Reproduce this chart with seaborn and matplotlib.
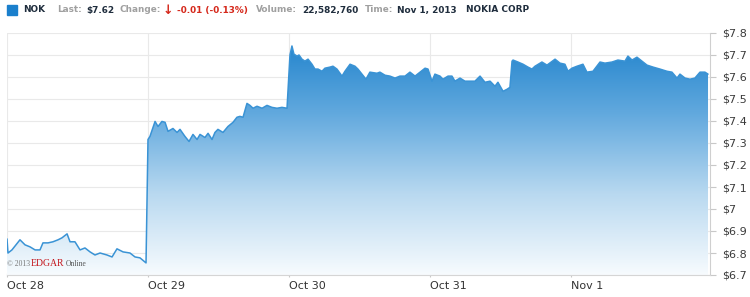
import numpy as np
import pandas as pd
import seaborn as sns
import matplotlib
matplotlib.use("Agg")
import matplotlib.pyplot as plt
from matplotlib.colors import LinearSegmentedColormap

# ---- data (trading-day position since Oct 28 open, price in $) ----
day_labels = ["Oct 28", "Oct 29", "Oct 30", "Oct 31", "Nov 1"]
price_ticks = [6.7, 6.8, 6.9, 7.0, 7.1, 7.2, 7.3, 7.4, 7.5, 7.6, 7.7, 7.8]
price_tick_labels = ["$6.7", "$6.8", "$6.9", "$7", "$7.1", "$7.2", "$7.3",
                     "$7.4", "$7.5", "$7.6", "$7.7", "$7.8"]

t_oct28 = [0.000, 0.007, 0.035, 0.092, 0.128, 0.163, 0.199, 0.234, 0.255, 0.291,
           0.326, 0.362, 0.390, 0.426, 0.447, 0.482, 0.518, 0.553, 0.589, 0.624,
           0.660, 0.709, 0.745, 0.780, 0.823, 0.872, 0.908, 0.943, 0.986]
p_oct28 = [6.864, 6.800, 6.814, 6.860, 6.837, 6.828, 6.814, 6.814, 6.846, 6.846,
           6.851, 6.860, 6.869, 6.887, 6.851, 6.851, 6.814, 6.823, 6.805, 6.791,
           6.800, 6.791, 6.782, 6.819, 6.805, 6.800, 6.782, 6.778, 6.755]

t_oct29 = [1.000, 1.014, 1.050, 1.071, 1.099, 1.121, 1.142, 1.177, 1.206, 1.227,
           1.262, 1.291, 1.319, 1.348, 1.369, 1.404, 1.426, 1.454, 1.475, 1.496,
           1.532, 1.567, 1.603, 1.631, 1.652, 1.674, 1.702, 1.723, 1.745, 1.773,
           1.809, 1.844, 1.879, 1.915, 1.950, 1.986]
p_oct29 = [7.316, 7.330, 7.398, 7.375, 7.398, 7.394, 7.353, 7.366, 7.348, 7.362,
           7.330, 7.307, 7.339, 7.316, 7.339, 7.325, 7.344, 7.316, 7.348, 7.362,
           7.348, 7.375, 7.394, 7.417, 7.421, 7.417, 7.480, 7.471, 7.458, 7.467,
           7.458, 7.471, 7.462, 7.458, 7.462, 7.458]

t_oct30 = [2.007, 2.021, 2.035, 2.057, 2.071, 2.092, 2.113, 2.135, 2.163, 2.184,
           2.206, 2.234, 2.255, 2.291, 2.312, 2.340, 2.376, 2.397, 2.433, 2.468,
           2.489, 2.518, 2.546, 2.574, 2.624, 2.645, 2.681, 2.716, 2.752, 2.787,
           2.823, 2.858, 2.894, 2.929, 2.965, 2.986]
p_oct30 = [7.700, 7.741, 7.704, 7.695, 7.700, 7.681, 7.672, 7.681, 7.658, 7.636,
           7.636, 7.626, 7.640, 7.645, 7.649, 7.636, 7.604, 7.626, 7.658, 7.649,
           7.636, 7.613, 7.590, 7.622, 7.617, 7.622, 7.608, 7.604, 7.595, 7.604,
           7.604, 7.622, 7.604, 7.622, 7.640, 7.636]

t_oct31 = [3.014, 3.035, 3.071, 3.092, 3.128, 3.156, 3.177, 3.213, 3.248, 3.284,
           3.319, 3.355, 3.390, 3.426, 3.461, 3.482, 3.518, 3.546, 3.567, 3.582,
           3.589, 3.624, 3.660, 3.695, 3.723, 3.745, 3.794, 3.830, 3.887, 3.922,
           3.957, 3.979]
p_oct31 = [7.581, 7.613, 7.604, 7.590, 7.604, 7.604, 7.581, 7.595, 7.581, 7.581,
           7.581, 7.604, 7.576, 7.581, 7.558, 7.576, 7.535, 7.544, 7.553, 7.672,
           7.677, 7.668, 7.658, 7.645, 7.636, 7.649, 7.668, 7.654, 7.681, 7.663,
           7.658, 7.626]

t_nov01 = [4.007, 4.043, 4.085, 4.113, 4.156, 4.206, 4.241, 4.291, 4.333, 4.383,
           4.404, 4.433, 4.468, 4.504, 4.539, 4.582, 4.631, 4.681, 4.716, 4.752,
           4.773, 4.809, 4.844, 4.879, 4.915, 4.950, 4.972]
p_nov01 = [7.640, 7.649, 7.658, 7.622, 7.626, 7.668, 7.663, 7.668, 7.677, 7.672,
           7.695, 7.677, 7.690, 7.672, 7.654, 7.645, 7.636, 7.626, 7.622, 7.595,
           7.613, 7.595, 7.590, 7.595, 7.622, 7.622, 7.613]

df = pd.DataFrame({
    "t": t_oct28 + t_oct29 + t_oct30 + t_oct31 + t_nov01,
    "price": p_oct28 + p_oct29 + p_oct30 + p_oct31 + p_nov01,
})

# ---- figure ----
sns.set_style("white")
plt.rcParams["font.family"] = ["DejaVu Sans"]

fig = plt.figure(figsize=(7.5, 2.97), dpi=100)
ax = fig.add_axes([7 / 750, 1 - 275 / 297, 703 / 750, 242 / 297])

y0, y1 = 6.7, 7.8
x0, x1 = 0.0, 4.986

# gradient area
poly = ax.fill_between(df["t"], df["price"], y0, color="none", lw=0)
cmap = LinearSegmentedColormap.from_list(
    "edgar", ["#f7fbfe", "#b9d9f0", "#62a9de", "#1b80cb"])
grad = np.linspace(0, 1, 256).reshape(-1, 1)
im = ax.imshow(grad, extent=[x0, x1, y0, y1], origin="lower", aspect="auto",
               cmap=cmap, zorder=1)
im.set_clip_path(poly.get_paths()[0], transform=ax.transData)

sns.lineplot(data=df, x="t", y="price", ax=ax, color="#3a93d5", lw=1.1,
             zorder=3, sort=False)

ax.set_xlim(x0, x1)
ax.set_ylim(y0, y1)
ax.set_xlabel("")
ax.set_ylabel("")

ax.set_xticks(range(len(day_labels)))
ax.set_xticklabels(day_labels)
for lab in ax.get_xticklabels():
    lab.set_horizontalalignment("left")
ax.set_yticks(price_ticks)
ax.set_yticklabels(price_tick_labels)

ax.yaxis.tick_right()
ax.tick_params(axis="y", which="both", right=True, left=False, length=4.5,
               width=0.8, color="#c8c8c8", pad=4, labelsize=8,
               labelcolor="#3a3a3a")
ax.tick_params(axis="x", bottom=True, length=3, width=0.8, color="#c8c8c8",
               direction="inout", pad=3, labelsize=8, labelcolor="#333333")

ax.grid(True, color="#e9e9e9", lw=0.8, zorder=0)
ax.set_axisbelow(True)
for side in ["top", "left"]:
    ax.spines[side].set_visible(False)
ax.spines["right"].set_color("#cfcfcf")
ax.spines["bottom"].set_color("#d5d5d5")
ax.spines["right"].set_linewidth(0.8)
ax.spines["bottom"].set_linewidth(0.8)

# ---- header ----
hy = 1 - 10 / 297
fs = 6.4
fig.patches.append(plt.Rectangle((7 / 750, 1 - 15 / 297), 10 / 750, 10 / 297,
                                 transform=fig.transFigure, color="#1a7fcc"))
dark = "#1f2d3d"
grey = "#a0a0a0"
red = "#d5281b"
fig.text(23 / 750, hy, "NOK", fontsize=fs, weight="bold", color=dark, va="center")
fig.text(57 / 750, hy, "Last:", fontsize=fs, weight="bold", color=grey, va="center")
fig.text(86 / 750, hy, "$7.62", fontsize=fs, weight="bold", color=dark, va="center")
fig.text(119 / 750, hy, "Change:", fontsize=fs, weight="bold", color=grey, va="center")
fig.text(167.5 / 750, hy, "\u2193", fontsize=9, weight="bold", color=red,
         va="center", ha="center")
fig.text(177 / 750, hy, "-0.01 (-0.13%)", fontsize=fs, weight="bold", color=red,
         va="center")
fig.text(256 / 750, hy, "Volume:", fontsize=fs, weight="bold", color=grey, va="center")
fig.text(302 / 750, hy, "22,582,760", fontsize=fs, weight="bold", color=dark,
         va="center")
fig.text(365 / 750, hy, "Time:", fontsize=fs, weight="bold", color=grey, va="center")
fig.text(397 / 750, hy, "Nov 1, 2013", fontsize=fs, weight="bold", color=dark,
         va="center")
fig.text(466 / 750, hy, "NOKIA CORP", fontsize=fs, weight="bold", color=dark,
         va="center")

# ---- watermark ----
wy = 1 - 264 / 297
fig.text(7 / 750, wy, "\u00a9 2013", fontsize=5.5, color="#777777",
         family="Liberation Serif", va="center")
fig.text(31 / 750, wy, "EDGAR", fontsize=7, color="#c4161c",
         family="Liberation Serif", va="center")
fig.text(66 / 750, wy, "Online", fontsize=5.5, color="#555555",
         family="Liberation Serif", va="center")

fig.savefig("out.png", dpi=100)
